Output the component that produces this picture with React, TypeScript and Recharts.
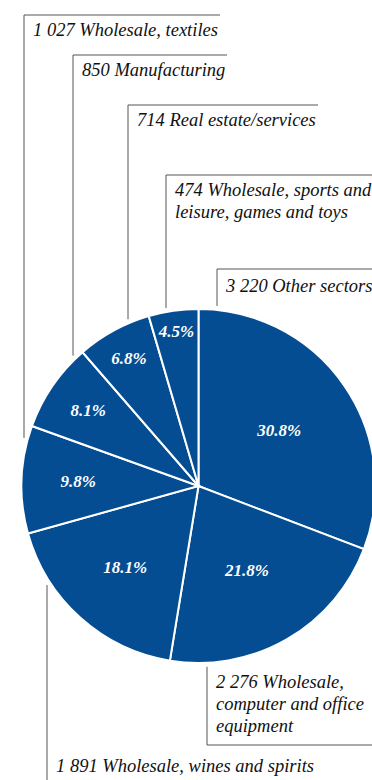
import React from 'react';
import { PieChart, Pie, Cell } from 'recharts';

// Number of enterprises by sector
const sectors = [
  'Other sectors',
  'Wholesale, computer and office equipment',
  'Wholesale, wines and spirits',
  'Wholesale, textiles',
  'Manufacturing',
  'Real estate/services',
  'Wholesale, sports and leisure, games and toys',
];
// How each sector name wraps in its callout
const sectorLines = [
  ['Other sectors'],
  ['Wholesale,', 'computer and office', 'equipment'],
  ['Wholesale, wines and spirits'],
  ['Wholesale, textiles'],
  ['Manufacturing'],
  ['Real estate/services'],
  ['Wholesale, sports and', 'leisure, games and toys'],
];
const enterprises = [3220, 2276, 1891, 1027, 850, 714, 474];

const data = sectors.map((name, i) => ({ name, value: enterprises[i] }));

// Layout of the callouts: vertical leader x, elbow y, end of the horizontal rule
const CALLOUTS = [
  { x: 217, elbowY: 269, right: 372, down: false, textY: 292 },
  { x: 207, elbowY: 745, right: 372, down: true, textY: 688 },
  { x: 47, elbowY: 800, right: 372, down: true, textY: 772 },
  { x: 24, elbowY: 15, right: 220, down: false, textY: 36 },
  { x: 73, elbowY: 55, right: 227, down: false, textY: 76 },
  { x: 128, elbowY: 105, right: 318, down: false, textY: 126 },
  { x: 166, elbowY: 175, right: 372, down: false, textY: 196 },
];
// Distance of each percentage label from the centre, as a share of the radius
const PCT_RADIUS = [0.553, 0.548, 0.62, 0.68, 0.755, 0.82, 0.88];

const BLUE = '#044d93';
const SERIF = 'Liberation Serif';
const RAD = Math.PI / 180;

const fmt = (v: number) =>
  v >= 1000 ? `${Math.floor(v / 1000)} ${String(v % 1000).padStart(3, '0')}` : String(v);

const renderLabel = (props: any) => {
  const { cx, cy, midAngle, outerRadius, percent, index, value } = props;
  const c = CALLOUTS[index];
  const lines = sectorLines[index];

  // percentage inside the slice
  const r = outerRadius * PCT_RADIUS[index];
  const px = cx + r * Math.cos(-midAngle * RAD);
  const py = cy + r * Math.sin(-midAngle * RAD);

  // leader starts just outside the rim at the leader's x
  const gapR = outerRadius + 4;
  const dx = c.x - cx;
  const h = Math.sqrt(Math.max(gapR * gapR - dx * dx, 0));
  const startY = c.down ? cy + h : cy - h;

  return (
    <g key={`lbl-${index}`}>
      <text
        x={px}
        y={py}
        textAnchor="middle"
        dominantBaseline="central"
        fill="#ffffff"
        fontFamily={SERIF}
        fontStyle="italic"
        fontWeight={700}
        fontSize={17}
      >
        {`${(percent * 100).toFixed(1)}%`}
      </text>
      <polyline
        points={`${c.x},${startY} ${c.x},${c.elbowY} ${c.right},${c.elbowY}`}
        fill="none"
        stroke="#555555"
        strokeWidth={1}
      />
      <text
        x={c.x + 9}
        y={c.textY}
        fill="#111111"
        fontFamily={SERIF}
        fontStyle="italic"
        fontSize={18.5}
      >
        {lines.map((ln, k) => (
          <tspan key={k} x={c.x + 9} dy={k === 0 ? 0 : 22}>
            {k === 0 ? `${fmt(value)} ${ln}` : ln}
          </tspan>
        ))}
      </text>
    </g>
  );
};

export default function App() {
  return (
    <div style={{ position: 'absolute', left: 0, top: 0, width: 372, height: 780, background: '#fff' }}>
      <PieChart width={372} height={780} margin={{ top: 0, right: 0, bottom: 0, left: 0 }}>
        <Pie
          data={data}
          dataKey="value"
          nameKey="name"
          cx={198.5}
          cy={486}
          outerRadius={177}
          startAngle={90}
          endAngle={-270}
          stroke="#ffffff"
          strokeWidth={2}
          label={renderLabel}
          labelLine={false}
          isAnimationActive={false}
        >
          {data.map((d) => (
            <Cell key={d.name} fill={BLUE} />
          ))}
        </Pie>
      </PieChart>
    </div>
  );
}
